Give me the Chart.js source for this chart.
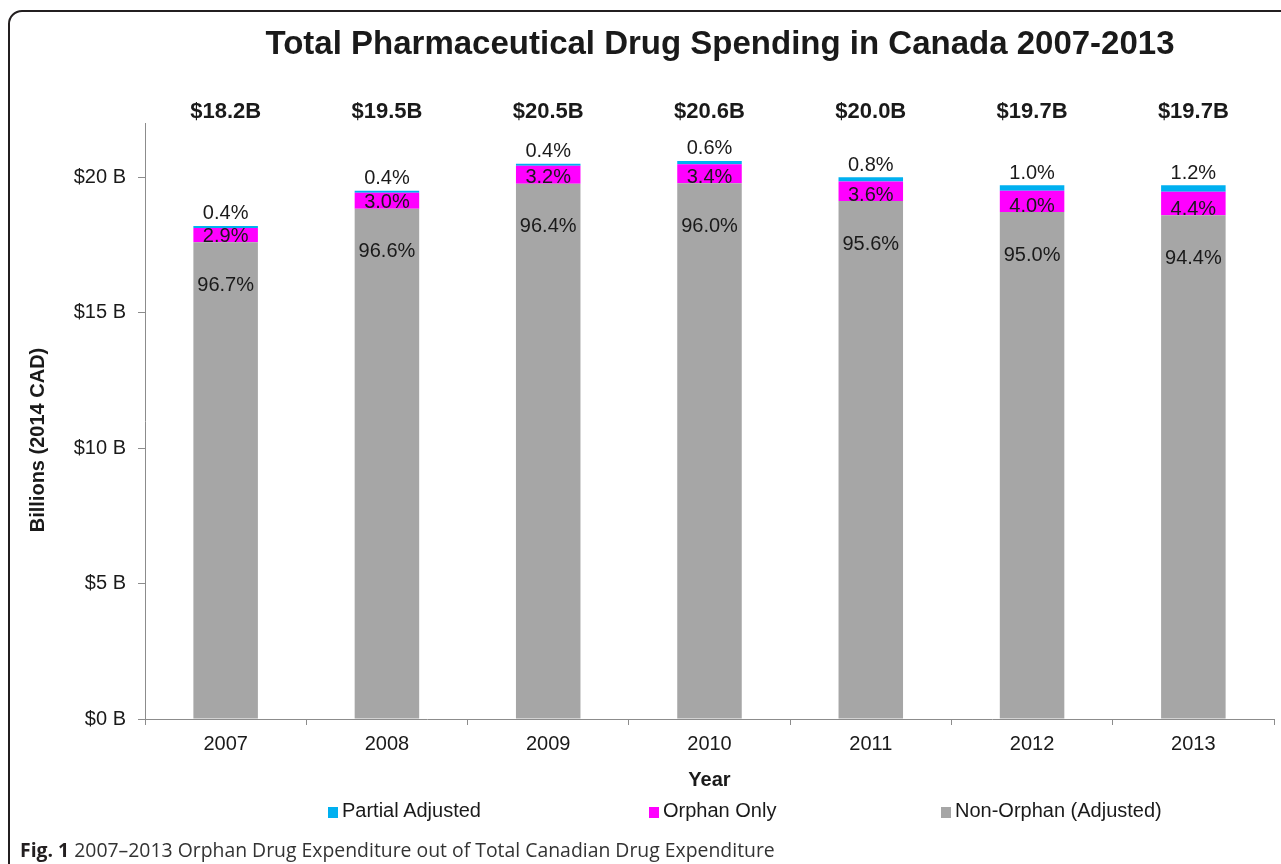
<!DOCTYPE html>
<html>
<head>
<meta charset="utf-8">
<title>Total Pharmaceutical Drug Spending in Canada 2007-2013</title>
<script src="https://cdn.jsdelivr.net/npm/chart.js@4.4.1/dist/chart.umd.min.js"></script>
<style>
  html, body { margin: 0; padding: 0; background: #fff; }
  body { width: 1281px; height: 864px; position: relative; overflow: hidden; }
  .frame {
    position: absolute; left: 8px; top: 10px; width: 1320px; height: 900px;
    border: 2px solid #231f20; border-radius: 14px; box-sizing: border-box;
  }
  #spendChart { position: absolute; left: 0; top: 0; }
  .legend { position: absolute; top: 798px; left: 0; font: 20px "Liberation Sans", Arial, sans-serif; color: #1a1a1a; }
  .legend span.item { position: absolute; white-space: nowrap; line-height: 24px; }
  .legend i { display: inline-block; width: 10px; height: 11px; margin-right: 4px; vertical-align: -1px; }
  .caption {
    position: absolute; left: 20px; top: 836px; white-space: nowrap;
    font: 19.4px "Open Sans", sans-serif; color: #333;
  }
  .caption b { color: #231f20; }
</style>
</head>
<body>
<div class="frame"></div>
<canvas id="spendChart" width="1281" height="864"></canvas>
<div class="legend" id="legend"></div>
<div class="caption"><b>Fig. 1</b> 2007–2013 Orphan Drug Expenditure out of Total Canadian Drug Expenditure</div>

<script>
// Spending per year, in billions (2014 CAD), and each segment's share in %
const years = ["2007", "2008", "2009", "2010", "2011", "2012", "2013"];
const totals = [18.2, 19.5, 20.5, 20.6, 20.0, 19.7, 19.7];
const nonOrphanShare = [96.7, 96.6, 96.4, 96.0, 95.6, 95.0, 94.4];
const orphanShare = [2.9, 3.0, 3.2, 3.4, 3.6, 4.0, 4.4];
const partialShare = [0.4, 0.4, 0.4, 0.6, 0.8, 1.0, 1.2];
const yTicks = [0, 5, 10, 15, 20];
const yMax = 22;

const TEXT = "#1a1a1a";
const AXIS = "#8c8c8c";
const FONT = "'Liberation Sans', Arial, sans-serif";

// share of the yearly total -> billions
const toBillions = (shares) => shares.map((p, i) => totals[i] * p / 100);

const series = [
  { label: "Non-Orphan (Adjusted)", shares: nonOrphanShare, color: "#a6a6a6" },
  { label: "Orphan Only",           shares: orphanShare,    color: "#ff00ff" },
  { label: "Partial Adjusted",      shares: partialShare,   color: "#00b0f0" }
];

/* ---------------- heading + y-axis caption ---------------- */
const headings = {
  id: "headings",
  afterDraw(chart) {
    const { ctx } = chart;
    ctx.save();
    ctx.fillStyle = TEXT;
    ctx.textAlign = "center";
    ctx.textBaseline = "middle";
    ctx.font = "bold 33px " + FONT;
    ctx.fillText("Total Pharmaceutical Drug Spending in Canada 2007-2013", 720, 45);

    ctx.translate(38, 440);
    ctx.rotate(-Math.PI / 2);
    ctx.font = "bold 20px " + FONT;
    ctx.fillText("Billions (2014 CAD)", 0, 0);
    ctx.restore();
  }
};

/* ---------------- value labels: totals above, shares on the segments ---------------- */
const segmentLabels = {
  id: "segmentLabels",
  afterDatasetsDraw(chart) {
    const { ctx } = chart;
    const gray = chart.getDatasetMeta(0).data;
    const orphan = chart.getDatasetMeta(1).data;
    const partial = chart.getDatasetMeta(2).data;
    ctx.save();
    ctx.textAlign = "center";
    ctx.textBaseline = "middle";
    ctx.fillStyle = TEXT;
    years.forEach((_, i) => {
      const x = gray[i].x;
      ctx.font = "bold 22px " + FONT;
      ctx.fillText("$" + totals[i].toFixed(1) + "B", x, 112);

      ctx.font = "20px " + FONT;
      ctx.fillText(partialShare[i].toFixed(1) + "%", x, partial[i].y - 12);
      ctx.fillText(orphanShare[i].toFixed(1) + "%", x, orphan[i].base - 6);
      ctx.fillText(nonOrphanShare[i].toFixed(1) + "%", x, gray[i].y + 43);
    });
    ctx.restore();
  }
};

function renderChart() {
  const ctx = document.getElementById("spendChart");
  new Chart(ctx, {
    type: "bar",
    data: {
      labels: years,
      datasets: series.map((s) => ({
        label: s.label,
        data: toBillions(s.shares),
        backgroundColor: s.color,
        borderWidth: 0,
        barPercentage: 0.4,
        categoryPercentage: 1.0
      }))
    },
    options: {
      responsive: false,
      animation: false,
      devicePixelRatio: 1,
      layout: { padding: { left: 0, right: 7, top: 123, bottom: 69 } },
      plugins: {
        legend: { display: false },
        tooltip: { enabled: false },
        title: { display: false }
      },
      scales: {
        x: {
          stacked: true,
          afterFit: (scale) => { scale.height = 76; },
          grid: { display: true, drawOnChartArea: false, tickLength: 6, color: AXIS, offset: true },
          border: { color: AXIS, width: 1 },
          ticks: { color: TEXT, font: { family: FONT, size: 20 }, padding: 7 },
          title: {
            display: true, text: "Year", color: TEXT,
            font: { family: FONT, size: 20, weight: "bold" },
            padding: { top: 0, bottom: 3 }
          }
        },
        y: {
          stacked: true,
          min: 0,
          max: yMax,
          afterFit: (scale) => { scale.width = 145; },
          afterBuildTicks: (scale) => { scale.ticks = yTicks.map((v) => ({ value: v })); },
          grid: { display: true, drawOnChartArea: false, tickLength: 7, color: AXIS },
          border: { color: AXIS, width: 1 },
          ticks: {
            color: TEXT,
            font: { family: FONT, size: 20 },
            padding: 12,
            callback: (v) => "$" + v + " B"
          },
          title: { display: false }
        }
      }
    },
    plugins: [segmentLabels, headings]
  });
}

/* ---------------- legend row under the axis ---------------- */
function renderLegend() {
  const legend = document.getElementById("legend");
  const order = [
    { s: series[2], left: 328 },
    { s: series[1], left: 649 },
    { s: series[0], left: 941 }
  ];
  order.forEach(({ s, left }) => {
    const item = document.createElement("span");
    item.className = "item";
    item.style.left = left + "px";
    item.innerHTML = `<i style="background:${s.color}"></i>${s.label}`;
    legend.appendChild(item);
  });
}

renderChart();
renderLegend();
</script>
</body>
</html>
